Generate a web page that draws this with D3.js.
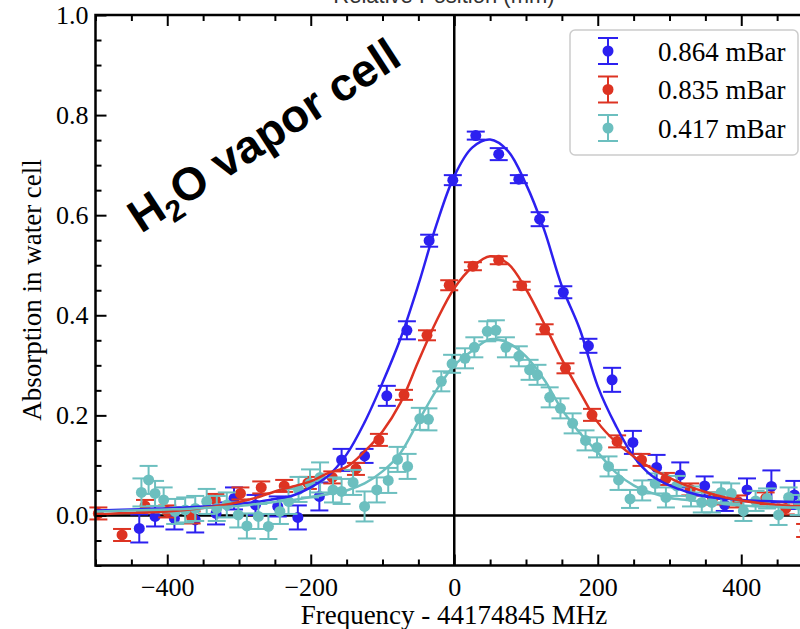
<!DOCTYPE html>
<html>
<head>
<meta charset="utf-8">
<script src="https://cdn.jsdelivr.net/npm/d3@7"></script>
<style>
  html, body { margin: 0; padding: 0; background: #fff; }
  svg { display: block; }
</style>
</head>
<body>
<svg id="chart" width="800" height="629"></svg>
<script>
// Measured absorption (points with error bars) for three vapour pressures
const blueX = [-439,-417,-390,-361,-332,-307,-277,-246,-218,-188,-157,-125,-94,-66,-35,-2,30,62,90,119,152,187,220,249,282,315,349,377,408,442,474];
const blueY = [-0.026,-0.002,-0.006,-0.009,0.004,0.034,0.021,0.018,-0.004,0.038,0.111,0.119,0.239,0.370,0.549,0.670,0.759,0.722,0.672,0.592,0.446,0.339,0.271,0.146,0.096,0.081,0.059,0.021,0.051,0.058,0.041];
const blueE = [0.028,0.020,0.022,0.025,0.022,0.022,0.020,0.020,0.024,0.028,0.022,0.014,0.020,0.018,0.012,0.010,0.008,0.012,0.008,0.014,0.012,0.014,0.024,0.023,0.025,0.025,0.019,0.012,0.023,0.032,0.028];

const redX = [-496,-463,-431,-400,-366,-333,-298,-269,-237,-204,-170,-137,-105,-70,-38,-7,26,62,94,126,155,192,227,261,295,329,360,395,434,462,489];
const redY = [0.004,-0.039,0.019,0.008,-0.004,0.031,0.044,0.056,0.059,0.065,0.076,0.093,0.151,0.241,0.360,0.460,0.498,0.510,0.459,0.372,0.294,0.201,0.148,0.111,0.073,0.052,0.034,0.028,0.034,0.014,-0.030];
const redE = [0.012,0.012,0.012,0.012,0.012,0.012,0.012,0.012,0.012,0.012,0.012,0.012,0.012,0.010,0.010,0.010,0.008,0.008,0.008,0.010,0.010,0.012,0.012,0.012,0.012,0.012,0.012,0.012,0.012,0.012,0.013];

const tealX = [-436,-426,-417,-405,-389,-375,-361,-345,-331,-317,-301,-289,-273,-259,-243,-231,-217,-201,-187,-169,-157,-141,-125,-108,-92,-79,-65,-48,-36,-18,-3,15,28,46,58,72,90,105,116,133,148,165,183,199,215,229,245,262,280,295,310,330,345,359,372,386,403,420,436,452,466,480];
const tealY = [0.046,0.071,0.044,0.031,0.008,0.011,0.014,0.028,0.014,0.021,0.001,-0.021,-0.002,-0.022,0.008,0.028,0.052,0.064,0.076,0.051,0.048,0.066,0.018,0.051,0.070,0.112,0.098,0.193,0.192,0.268,0.303,0.314,0.336,0.368,0.370,0.336,0.318,0.291,0.281,0.236,0.214,0.184,0.150,0.136,0.098,0.071,0.033,0.050,0.064,0.036,0.059,0.038,0.026,0.026,0.046,0.044,0.009,0.029,0.034,0.001,0.036,0.021];
const tealE = [0.028,0.028,0.025,0.025,0.025,0.025,0.025,0.025,0.025,0.025,0.025,0.025,0.025,0.025,0.025,0.025,0.025,0.028,0.030,0.025,0.025,0.025,0.030,0.025,0.025,0.025,0.025,0.022,0.022,0.020,0.018,0.020,0.020,0.020,0.020,0.020,0.020,0.020,0.020,0.020,0.020,0.020,0.020,0.020,0.020,0.020,0.018,0.020,0.020,0.020,0.020,0.020,0.020,0.020,0.020,0.020,0.020,0.020,0.020,0.020,0.020,0.020];

// Fitted line profiles, sampled every 25 MHz
const fitX = [-500,-475,-450,-425,-400,-375,-350,-325,-300,-275,-250,-225,-200,-175,-150,-125,-100,-75,-50,-25,0,25,50,75,100,125,150,175,200,225,250,275,300,325,350,375,400,425,450,475,500];
const blueFit = [0.010,0.011,0.012,0.013,0.014,0.016,0.018,0.020,0.023,0.027,0.033,0.040,0.056,0.080,0.122,0.186,0.265,0.353,0.461,0.580,0.678,0.735,0.751,0.728,0.662,0.572,0.458,0.372,0.258,0.180,0.118,0.080,0.060,0.047,0.038,0.034,0.031,0.029,0.028,0.027,0.026];
const redFit  = [0.002,0.004,0.005,0.006,0.008,0.011,0.015,0.020,0.027,0.036,0.048,0.058,0.068,0.085,0.097,0.128,0.168,0.225,0.308,0.388,0.454,0.496,0.518,0.503,0.452,0.384,0.312,0.247,0.186,0.147,0.118,0.094,0.075,0.059,0.047,0.037,0.030,0.025,0.021,0.019,0.018];
const tealFit = [0.008,0.009,0.010,0.011,0.012,0.013,0.015,0.017,0.019,0.023,0.027,0.031,0.037,0.043,0.050,0.064,0.088,0.125,0.188,0.250,0.300,0.329,0.352,0.345,0.318,0.272,0.212,0.165,0.126,0.086,0.060,0.045,0.035,0.031,0.027,0.023,0.020,0.018,0.017,0.016,0.016];

const seriesNames = ["0.864 mBar", "0.835 mBar", "0.417 mBar"];
const seriesColors = ["#2c20f0", "#dd3322", "#6cbfbf"];

const xTicksMajor = [-400, -200, 0, 200, 400];
const yTicksMajor = [0.0, 0.2, 0.4, 0.6, 0.8, 1.0];

const svg = d3.select("#chart");
const serif = "'Liberation Serif', 'Times New Roman', serif";
const sans = "'Liberation Sans', Arial, sans-serif";

const plotL = 95.5, plotR = 813, plotT = 15, plotB = 565.5;
const x = d3.scaleLinear().domain([-500, 500]).range([plotL, plotR]);
const y = d3.scaleLinear().domain([-0.1, 1.0]).range([plotB, plotT]);

// reference lines at zero
svg.append("line").attr("x1", x(0)).attr("x2", x(0)).attr("y1", plotT).attr("y2", plotB)
  .attr("stroke", "#000").attr("stroke-width", 2.5);
svg.append("line").attr("x1", plotL).attr("x2", plotR).attr("y1", y(0)).attr("y2", y(0))
  .attr("stroke", "#000").attr("stroke-width", 2.5);

const series = [
  { xs: blueX, ys: blueY, es: blueE, fit: blueFit },
  { xs: redX, ys: redY, es: redE, fit: redFit },
  { xs: tealX, ys: tealY, es: tealE, fit: tealFit }
];

const cap = 9;
series.forEach((s, i) => {
  const col = seriesColors[i];
  const pts = s.xs.map((v, k) => ({ x: v, y: s.ys[k], e: s.es[k] }));
  const g = svg.append("g").attr("stroke", col).attr("fill", col);
  const eb = g.selectAll("g.eb").data(pts).join("g").attr("class", "eb");
  eb.append("line").attr("x1", d => x(d.x)).attr("x2", d => x(d.x))
    .attr("y1", d => y(d.y - d.e)).attr("y2", d => y(d.y + d.e)).attr("stroke-width", 2);
  eb.append("line").attr("x1", d => x(d.x) - cap).attr("x2", d => x(d.x) + cap)
    .attr("y1", d => y(d.y + d.e)).attr("y2", d => y(d.y + d.e)).attr("stroke-width", 2);
  eb.append("line").attr("x1", d => x(d.x) - cap).attr("x2", d => x(d.x) + cap)
    .attr("y1", d => y(d.y - d.e)).attr("y2", d => y(d.y - d.e)).attr("stroke-width", 2);
  eb.append("circle").attr("cx", d => x(d.x)).attr("cy", d => y(d.y)).attr("r", 5.5).attr("stroke", "none");
});

const line = d3.line().x(d => x(d[0])).y(d => y(d[1])).curve(d3.curveCatmullRom.alpha(0.5));
series.forEach((s, i) => {
  svg.append("path").datum(fitX.map((v, k) => [v, s.fit[k]]))
    .attr("d", line).attr("fill", "none").attr("stroke", seriesColors[i]).attr("stroke-width", 2.5);
});

// axes: inward major and minor ticks on all sides
const minorX = d3.range(-500, 501, 50).filter(v => !xTicksMajor.includes(v));
const minorY = d3.range(-10, 101, 5).map(v => v / 100).filter(v => !yTicksMajor.some(t => Math.abs(t - v) < 1e-9));

function styleAxis(g) {
  g.attr("font-family", serif).attr("font-size", 26);
  g.select(".domain").remove();
  g.selectAll(".tick line").attr("stroke", "#000").attr("stroke-width", 2);
  g.selectAll("text").attr("font-family", serif).attr("font-size", 26).attr("fill", "#000");
}

svg.append("g").attr("transform", `translate(0,${plotB})`)
  .call(d3.axisBottom(x).tickValues(xTicksMajor).tickSize(-11).tickPadding(12).tickFormat(d3.format("d")))
  .call(styleAxis);
svg.append("g").attr("transform", `translate(0,${plotB})`)
  .call(d3.axisBottom(x).tickValues(minorX).tickSize(-6).tickFormat(""))
  .call(styleAxis);
svg.append("g").attr("transform", `translate(0,${plotT})`)
  .call(d3.axisTop(x).tickValues(xTicksMajor).tickSize(-11).tickFormat(""))
  .call(styleAxis);
svg.append("g").attr("transform", `translate(0,${plotT})`)
  .call(d3.axisTop(x).tickValues(minorX).tickSize(-6).tickFormat(""))
  .call(styleAxis);
svg.append("g").attr("transform", `translate(${plotL},0)`)
  .call(d3.axisLeft(y).tickValues(yTicksMajor).tickSize(-11).tickPadding(7).tickFormat(d3.format(".1f")))
  .call(styleAxis);
svg.append("g").attr("transform", `translate(${plotL},0)`)
  .call(d3.axisLeft(y).tickValues(minorY).tickSize(-6).tickFormat(""))
  .call(styleAxis);
svg.append("g").attr("transform", `translate(${plotR},0)`)
  .call(d3.axisRight(y).tickValues(yTicksMajor).tickSize(-11).tickFormat(""))
  .call(styleAxis);

// frame
svg.append("rect").attr("x", plotL).attr("y", plotT).attr("width", plotR - plotL).attr("height", plotB - plotT)
  .attr("fill", "none").attr("stroke", "#000").attr("stroke-width", 2.5);

// axis titles
svg.append("text").attr("x", 454).attr("y", 624).attr("text-anchor", "middle")
  .attr("font-family", serif).attr("font-size", 27).text("Frequency - 44174845 MHz");
svg.append("text").attr("transform", "translate(41,290) rotate(-90)").attr("text-anchor", "middle")
  .attr("font-family", serif).attr("font-size", 27).text("Absorption in water cell");
svg.append("text").attr("x", 444).attr("y", 2.5).attr("text-anchor", "middle")
  .attr("font-family", sans).attr("font-size", 22).attr("fill", "#333").text("Relative Position (mm)");

// annotation
const ann = svg.append("text").attr("transform", "translate(141,234) rotate(-33)")
  .attr("font-family", sans).attr("font-weight", "bold").attr("font-size", 46).attr("fill", "#000");
ann.append("tspan").text("H");
ann.append("tspan").attr("font-size", 30).attr("dy", 9).text("2");
ann.append("tspan").attr("dy", -9).text("O vapor cell");

// legend
const lg = svg.append("g");
lg.append("rect").attr("x", 570).attr("y", 30).attr("width", 228).attr("height", 125).attr("rx", 5)
  .attr("fill", "#fff").attr("fill-opacity", 0.8).attr("stroke", "#cccccc").attr("stroke-width", 1.5);
seriesNames.forEach((name, i) => {
  const cy = 51 + i * 38.5;
  const col = seriesColors[i];
  const e = lg.append("g").attr("stroke", col).attr("fill", col);
  e.append("line").attr("x1", 608).attr("x2", 608).attr("y1", cy - 13).attr("y2", cy + 13).attr("stroke-width", 2);
  e.append("line").attr("x1", 598).attr("x2", 618).attr("y1", cy - 13).attr("y2", cy - 13).attr("stroke-width", 2);
  e.append("line").attr("x1", 598).attr("x2", 618).attr("y1", cy + 13).attr("y2", cy + 13).attr("stroke-width", 2);
  e.append("circle").attr("cx", 608).attr("cy", cy).attr("r", 5.5).attr("stroke", "none");
  lg.append("text").attr("x", 658).attr("y", cy + 9.5).attr("font-family", serif).attr("font-size", 27)
    .attr("fill", "#000").text(name);
});
</script>
</body>
</html>
